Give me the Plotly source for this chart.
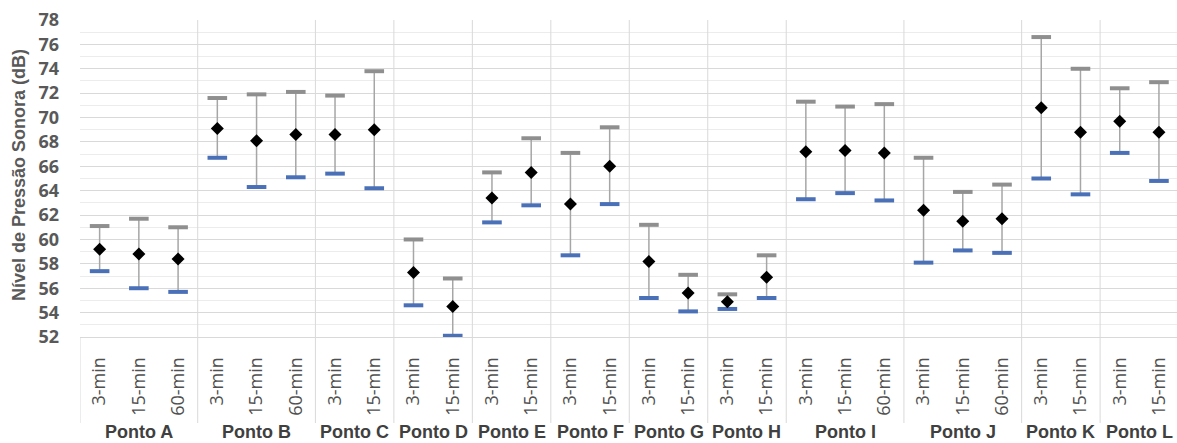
import plotly.graph_objects as go

# ---- data ----
point_labels = ["Ponto A"] * 3 + ["Ponto B"] * 3 + ["Ponto C"] * 2 + ["Ponto D"] * 2 + \
               ["Ponto E"] * 2 + ["Ponto F"] * 2 + ["Ponto G"] * 2 + ["Ponto H"] * 2 + \
               ["Ponto I"] * 3 + ["Ponto J"] * 3 + ["Ponto K"] * 2 + ["Ponto L"] * 2
period_labels = ["3-min", "15-min", "60-min", "3-min", "15-min", "60-min",
                 "3-min", "15-min", "3-min", "15-min", "3-min", "15-min",
                 "3-min", "15-min", "3-min", "15-min", "3-min", "15-min",
                 "3-min", "15-min", "60-min", "3-min", "15-min", "60-min",
                 "3-min", "15-min", "3-min", "15-min"]
max_vals = [61.1, 61.7, 61.0, 71.6, 71.9, 72.1, 71.8, 73.8, 60.0, 56.8,
            65.5, 68.3, 67.1, 69.2, 61.2, 57.1, 55.5, 58.7,
            71.3, 70.9, 71.1, 66.7, 63.9, 64.5, 76.6, 74.0, 72.4, 72.9]
mean_vals = [59.2, 58.8, 58.4, 69.1, 68.1, 68.6, 68.6, 69.0, 57.3, 54.5,
             63.4, 65.5, 62.9, 66.0, 58.2, 55.6, 54.9, 56.9,
             67.2, 67.3, 67.1, 62.4, 61.5, 61.7, 70.8, 68.8, 69.7, 68.8]
min_vals = [57.4, 56.0, 55.7, 66.7, 64.3, 65.1, 65.4, 64.2, 54.6, 52.1,
            61.4, 62.8, 58.7, 62.9, 55.2, 54.1, 54.3, 55.2,
            63.3, 63.8, 63.2, 58.1, 59.1, 58.9, 65.0, 63.7, 67.1, 64.8]
y_title = "Nível de Pressão Sonora (dB)"

# ---- derived ----
xs = list(range(len(period_labels)))
groups = []
for i, p in enumerate(point_labels):
    if not groups or groups[-1][0] != p:
        groups.append([p, i, i])
    else:
        groups[-1][2] = i

W, H = 1177, 443
ML, MR, MT, MB = 80, 0, 20, 106
plot_h = H - MT - MB

fig = go.Figure()

# whiskers
fig.add_trace(go.Scatter(
    x=xs, y=mean_vals, mode="markers",
    marker=dict(size=1, color="rgba(0,0,0,0)"),
    error_y=dict(type="data", symmetric=False,
                 array=[mx - m for mx, m in zip(max_vals, mean_vals)],
                 arrayminus=[m - mn for m, mn in zip(mean_vals, min_vals)],
                 color="#a6a6a6", thickness=1.5, width=0),
    hoverinfo="skip", showlegend=False))
# max dash
fig.add_trace(go.Scatter(
    x=xs, y=max_vals, mode="markers",
    marker=dict(symbol="line-ew-open", size=14, color="#8f8f8f",
                line=dict(width=4, color="#8f8f8f")),
    showlegend=False))
# min dash
fig.add_trace(go.Scatter(
    x=xs, y=min_vals, mode="markers",
    marker=dict(symbol="line-ew-open", size=14, color="#4a70b8",
                line=dict(width=4, color="#4a70b8")),
    showlegend=False))
# mean diamond
fig.add_trace(go.Scatter(
    x=xs, y=mean_vals, mode="markers",
    marker=dict(symbol="diamond", size=10, color="#000000"),
    showlegend=False))

# group dividers and labels
label_bottom = (plot_h - (423 - MT)) / plot_h
for k, (name, i0, i1) in enumerate(groups):
    x_left = i0 - 0.5
    fig.add_shape(type="line", xref="x", yref="paper", x0=x_left, x1=x_left,
                  y0=label_bottom, y1=0 if k == 0 else 1,
                  line=dict(color="#d9d9d9", width=1))
    fig.add_annotation(x=(i0 + i1) / 2, xref="x", y=(plot_h - (432 - MT)) / plot_h, yref="paper",
                       text=name, showarrow=False, xanchor="center", yanchor="middle",
                       font=dict(family="Liberation Sans", size=18, color="#404040", weight="bold"))
fig.add_shape(type="line", xref="x", yref="paper", x0=len(xs) - 0.5, x1=len(xs) - 0.5,
              y0=label_bottom, y1=1, line=dict(color="#d9d9d9", width=1))

fig.add_annotation(x=-61 / (W - ML - MR), xref="paper", y=(plot_h - (175 - MT)) / plot_h, yref="paper",
                   text=y_title, textangle=-90, showarrow=False,
                   xanchor="center", yanchor="middle",
                   font=dict(family="Liberation Sans", size=18, color="#595959", weight="bold"))

fig.update_layout(
    width=W, height=H,
    margin=dict(l=ML, r=MR, t=MT, b=MB, pad=0),
    plot_bgcolor="white", paper_bgcolor="white",
    xaxis=dict(range=[-0.5, 27.46], tickmode="array", tickvals=xs, ticktext=period_labels,
               tickangle=-90, showgrid=False, zeroline=False, showline=True,
               linecolor="#d9d9d9", linewidth=1, ticks="", ticklabelstandoff=12,
               tickfont=dict(family="Open Sans", size=18, color="#505050")),
    yaxis=dict(range=[52, 78], dtick=2, tick0=52, showgrid=True, gridcolor="#d9d9d9",
               gridwidth=1, zeroline=False, showline=False, ticks="",
               ticklabelstandoff=20,
               minor=dict(dtick=1, showgrid=True, gridcolor="#ececec", gridwidth=1),
               tickfont=dict(family="Open Sans", size=18, color="#595959", weight="bold")),
    showlegend=False,
)

fig.write_html("out.html")
